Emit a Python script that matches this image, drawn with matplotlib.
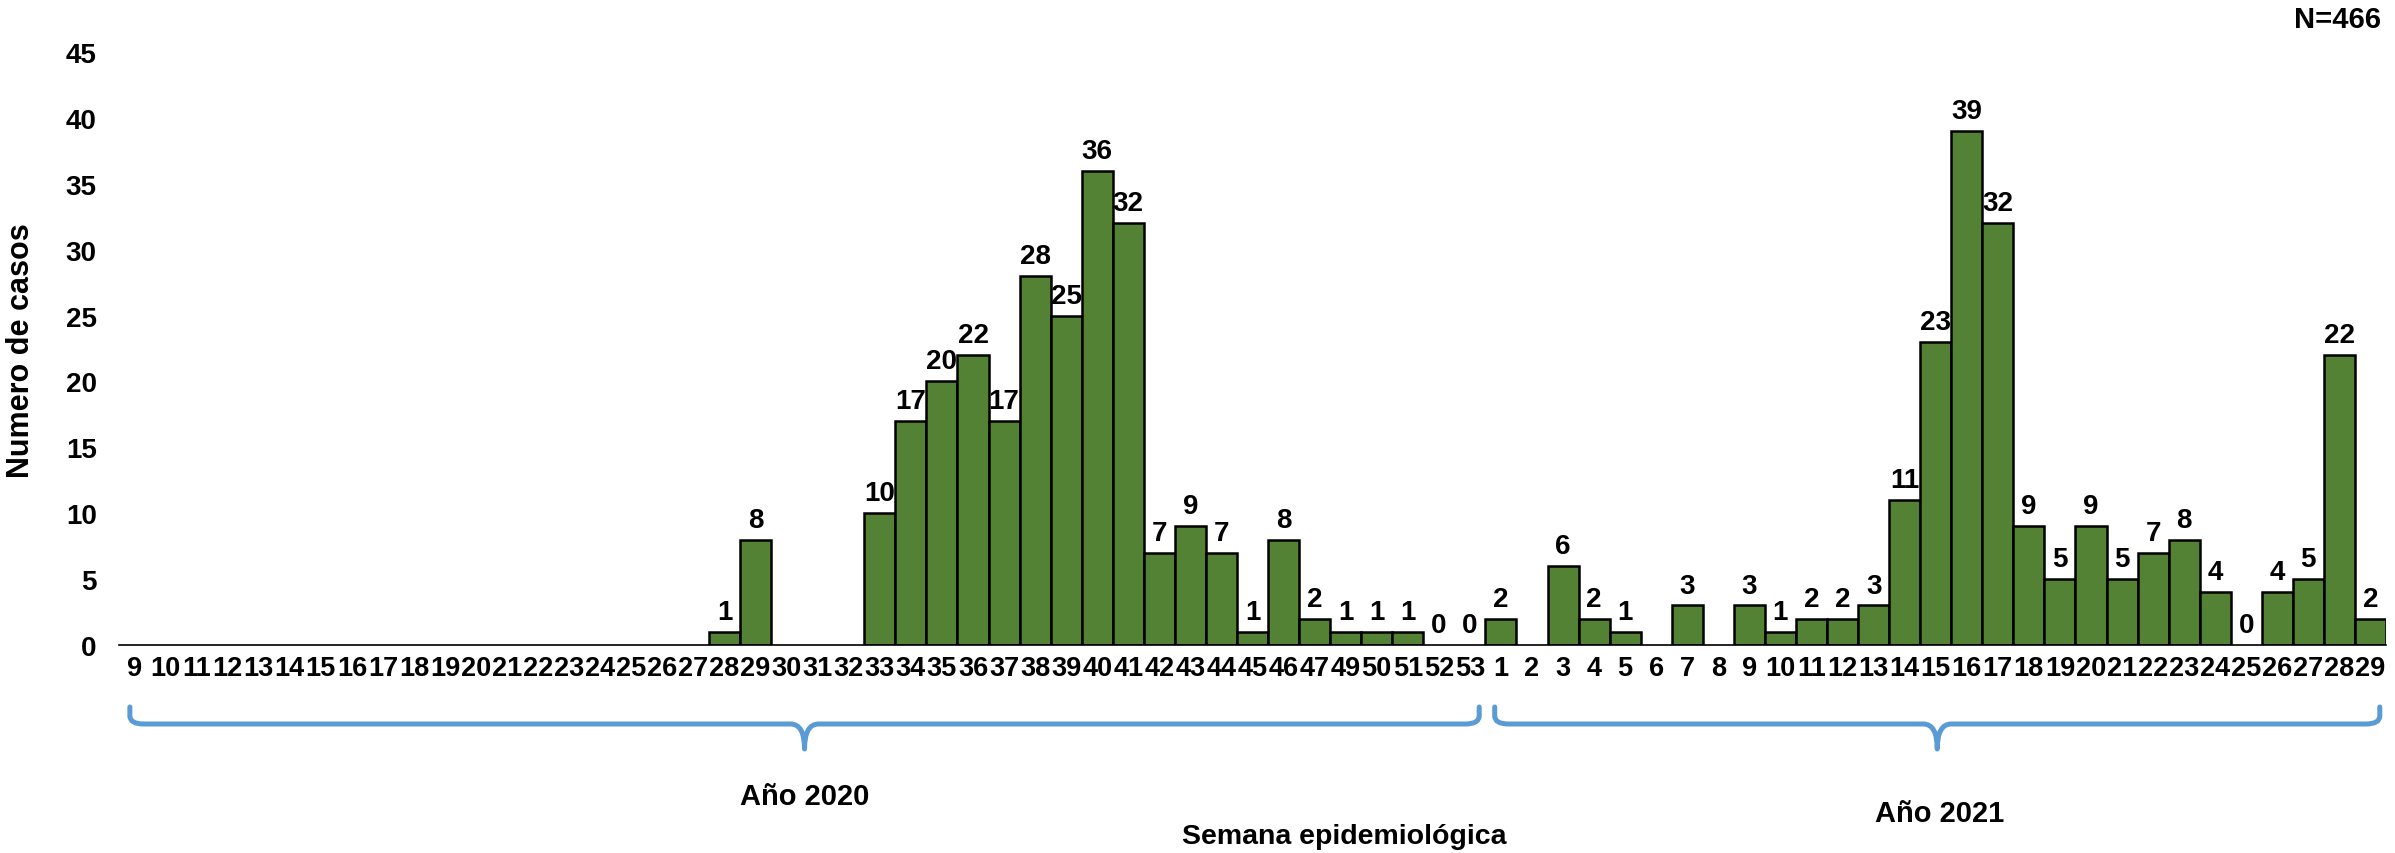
import matplotlib
matplotlib.use("Agg")
import matplotlib.pyplot as plt
from matplotlib.path import Path
from matplotlib.patches import PathPatch
from matplotlib.transforms import blended_transform_factory

# semanas epidemiologicas (2020 no tiene la semana 48)
weeks2020 = list(range(9, 48)) + [49, 50, 51, 52, 53]
cases2020 = [None] * 19 + [1, 8, None, None, None, 10, 17, 20, 22, 17, 28, 25, 36, 32,
                           7, 9, 7, 1, 8, 2, 1, 1, 1, 0, 0]
weeks2021 = list(range(1, 30))
cases2021 = [2, None, 6, 2, 1, None, 3, None, 3, 1, 2, 2, 3, 11, 23, 39, 32, 9, 5, 9,
             5, 7, 8, 4, 0, 4, 5, 22, 2]

labels = [str(w) for w in weeks2020] + [str(w) for w in weeks2021]
values = cases2020 + cases2021
x = list(range(len(labels)))

font = ['Liberation Sans', 'DejaVu Sans']

W, H = 2395, 854
fig = plt.figure(figsize=(W / 100, H / 100), dpi=100)
ax = fig.add_axes([119 / W, 1 - 646 / H, (2386 - 119) / W, (646 - 53) / H])

for xi, v in zip(x, values):
    if v is None:
        continue
    if v > 0:
        ax.bar(xi, v, width=1.0, color='#548235', edgecolor='black', linewidth=1.8, zorder=2)
    ax.annotate(str(v), (xi, v), xytext=(0, 5), textcoords='offset points',
                ha='center', va='bottom', fontsize=20, fontweight='bold', family=font)

ax.set_xlim(-0.5, len(labels) - 0.5)
ax.set_ylim(0, 45)
ax.set_yticks(range(0, 46, 5))
ax.set_xticks(x)
ax.set_xticklabels(labels, fontsize=19.5, fontweight='bold', family=font)
for t in ax.get_yticklabels():
    t.set_fontsize(20)
    t.set_fontweight('bold')
    t.set_family(font)
ax.tick_params(axis='y', length=0, pad=16)
ax.tick_params(axis='x', length=0, pad=7)
for s in ['top', 'right', 'left']:
    ax.spines[s].set_visible(False)
ax.spines['bottom'].set_linewidth(1.2)
ax.spines['bottom'].set_zorder(3)

# llaves azules debajo de cada anio
tr = blended_transform_factory(ax.transData, fig.transFigure)
yt, yl, ytip = 1 - 708 / H, 1 - 725 / H, 1 - 750 / H
c = 8 / H
r = 0.45


def brace(x0, x1):
    xm = (x0 + x1) / 2
    verts = [(x0, yt), (x0, yl + c), (x0, yl), (x0 + r, yl),
             (xm - r, yl), (xm, yl), (xm, ytip), (xm, yl), (xm + r, yl),
             (x1 - r, yl), (x1, yl), (x1, yl + c), (x1, yt)]
    codes = [Path.MOVETO, Path.LINETO, Path.CURVE3, Path.CURVE3,
             Path.LINETO, Path.CURVE3, Path.CURVE3, Path.CURVE3, Path.CURVE3,
             Path.LINETO, Path.CURVE3, Path.CURVE3, Path.LINETO]
    p = PathPatch(Path(verts, codes), facecolor='none', edgecolor='#5B9BD5',
                  linewidth=3.6, capstyle='round', joinstyle='round',
                  transform=tr, clip_on=False)
    ax.add_patch(p)
    return xm


n20 = len(weeks2020)
brace(-0.15, n20 - 0.7)
brace(n20 - 0.2, len(labels) - 0.7)

fig.text(805 / W, 1 - 797 / H, 'Año 2020', ha='center', va='center',
         fontsize=21, fontweight='bold', family=font)
fig.text(1940 / W, 1 - 814 / H, 'Año 2021', ha='center', va='center',
         fontsize=21, fontweight='bold', family=font)
fig.text(1344 / W, 1 - 837 / H, 'Semana epidemiológica', ha='center', va='center',
         fontsize=20.5, fontweight='bold', family=font)
fig.text(2337 / W, 1 - 20 / H, 'N=466', ha='center', va='center',
         fontsize=21, fontweight='bold', family=font)
fig.text(21 / W, 1 - 351 / H, 'Numero de casos', ha='center', va='center',
         rotation=90, fontsize=22, fontweight='bold', family=font)

fig.savefig('out.png', dpi=100)
